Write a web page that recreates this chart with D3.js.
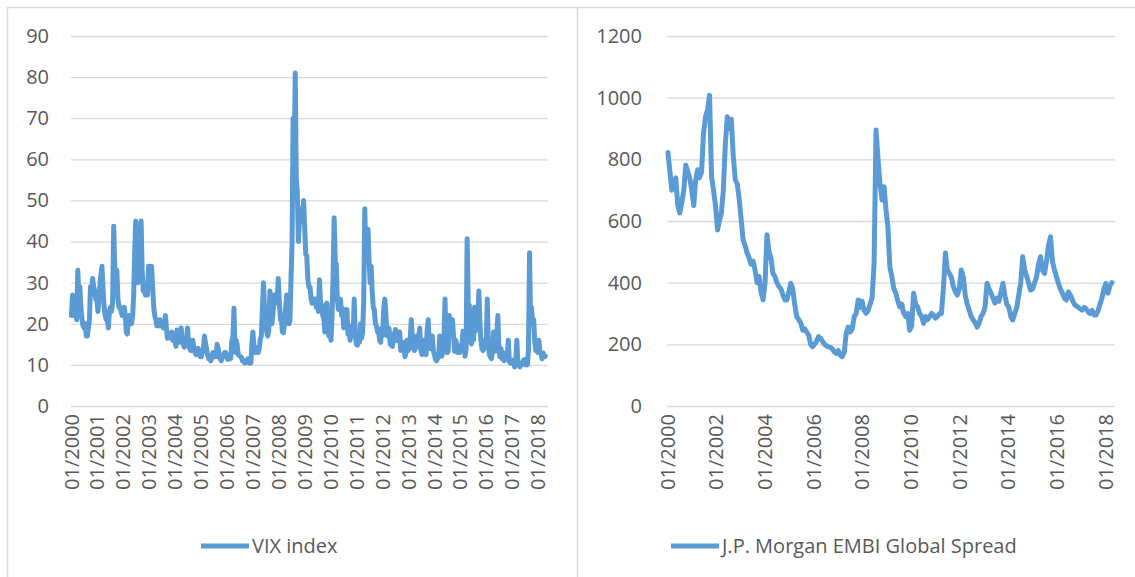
<!DOCTYPE html>
<html>
<head>
<meta charset="utf-8">
<title>VIX index and J.P. Morgan EMBI Global Spread</title>
<script src="https://cdn.jsdelivr.net/npm/d3@7"></script>
<style>
  body { margin: 0; background: #fff; }
  text { font-family: "Open Sans", sans-serif; fill: #595959; }
</style>
</head>
<body>
<svg id="chart" width="1135" height="577"></svg>
<script>

// VIX, two readings per month (mid / end), Jan 2000 .. Sep 2018
const vixValues = [
  22,27, 22,25, 23,21, 33,27, 29,24, 21,19.5, 19,20, 17,17, 19,21, 29,27, 31,29, 28,26,
  26,23, 26,30, 32,34, 28,24, 22,21, 21,19, 23,24, 23,25, 43.7,34, 31,33, 26,24, 24,23,
  22,22, 24,22, 18,17.5, 21,22, 20,20, 22,27, 38,45, 33,30, 36,40, 45,33, 28,28, 27,29,
  27,34, 34,30, 34,29, 24,22, 21,19.5, 20,19.5, 21,19.5, 20,19, 19,22, 19,16.5, 17,17, 16.5,18,
  16,16.5, 16,14.5, 18.5,17, 15.5,17, 19,15.5, 15,14.3, 15,16, 19,15, 14,13.5, 15,16, 14,13, 12.5,13.3,
  14,12.8, 12,12, 13,14, 17,15.3, 14,12.5, 11.5,12, 11,11.6, 13,12.6, 12,12, 15,14, 12.5,11.5, 11,12.1,
  12,13, 13,12.3, 11.4,11.4, 11.5,11.6, 16,16.4, 23.8,13.1, 16,15, 12.5,12.3, 12,11.9, 11,11.1, 10.5,10.9, 10.6,11.5,
  11,10.4, 10.5,15.4, 18,14.6, 13,14.2, 13,13, 14,16.2, 17,23.5, 30,23.4, 20,18, 17,18.5, 28,22.9, 20,22.5,
  27,26.2, 25,26.5, 31,25.6, 21,20.8, 18,17.8, 21,24, 27,22.9, 20,20.7, 31,39.4, 70,59.9, 81,55.3, 52,40,
  45,44.8, 48,46.4, 50,44, 37,36.5, 31,28.9, 29,26.4, 25,25.9, 26,26, 24,25.6, 23,30.7, 25,24.5, 22,21.7,
  18,24.6, 25,19.5, 17,17.6, 16,22, 32,45.8, 35,34.5, 26,23.5, 24,26, 22,23.7, 19,21.2, 21,23.5, 17.5,17.8,
  16,19.5, 17,18.4, 26,17.7, 15,14.8, 17,15.5, 20,16.5, 18,25.3, 48,36, 39,43, 36,30, 34,27.8, 24,23.4,
  20,19.4, 18,18.4, 16,15.5, 19,17.2, 24,26, 22,17.1, 17,18.9, 15,17.5, 14.5,15.7, 17,18.6, 18,15.9, 17,18,
  13.5,14.3, 14,15.5, 12,12.7, 16,13.5, 14,16.3, 21,16.9, 14,13.5, 14,17, 16,16.6, 19,13.8, 12.5,13.7, 16,13.7,
  12.5,18.4, 21,14, 17,13.9, 17,13.4, 12.5,11.4, 11,11.6, 12,17, 15,12.1, 13.3,16.3, 26,14, 13,13.3, 22,19.2,
  21,21, 17,13.3, 16,15.3, 13,14.6, 13,13.8, 14,18.2, 17,12.1, 14,40.7, 24,24.5, 17,15.1, 18,16.1, 24,18.2,
  24,20.2, 28,20.6, 16,14, 13.5,15.7, 16,14.2, 26,15.6, 12.5,11.9, 11.5,13.4, 18,13.3, 16,17.1, 22,13.3, 12,14,
  11.5,12, 11,12.9, 12,12.4, 16,10.8, 10.5,10.4, 11,11.2, 9.5,10.3, 16,10.6, 10,9.5, 10,10.2, 11,11.3, 10,11,
  10,13.5, 37.3,19.9, 24,20, 21,15.9, 13.5,15.4, 13,16, 13,12.8, 11.5,12.9, 12,12.1
];

// EMBI Global spread (bp), monthly, Jan 2000 .. Sep 2018
const embiValues = [
  822, 760, 700, 720, 740, 650, 626, 660, 700, 781, 760, 740,
  700, 650, 730, 766, 740, 760, 885, 938, 960, 1008, 743, 700,
  650, 571, 600, 626, 700, 850, 938, 900, 930, 808, 733, 720,
  668, 600, 538, 520, 496, 480, 460, 470, 440, 400, 420, 370,
  344, 400, 555, 500, 480, 430, 420, 400, 387, 380, 360, 344,
  344, 370, 398, 380, 330, 290, 280, 270, 246, 250, 240, 230,
  200, 192, 200, 210, 225, 220, 210, 200, 195, 192, 190, 185,
  175, 170, 180, 165, 160, 175, 236, 256, 240, 250, 290, 300,
  344, 320, 340, 310, 301, 310, 330, 350, 463, 895, 798, 720,
  668, 711, 640, 581, 451, 420, 380, 366, 340, 321, 330, 300,
  290, 300, 246, 260, 366, 330, 321, 300, 290, 268, 290, 280,
  290, 300, 295, 285, 290, 300, 300, 380, 496, 440, 430, 418,
  387, 370, 360, 380, 441, 420, 360, 330, 311, 290, 279, 270,
  256, 270, 290, 300, 320, 398, 380, 366, 350, 334, 350, 340,
  370, 398, 360, 330, 321, 290, 279, 300, 320, 360, 400, 484,
  441, 420, 400, 376, 380, 400, 418, 460, 484, 440, 430, 470,
  520, 549, 470, 441, 420, 398, 380, 366, 350, 344, 370, 360,
  344, 330, 325, 320, 315, 311, 320, 315, 305, 300, 310, 295,
  295, 310, 330, 350, 380, 398, 366, 390, 400
];

const vixTicks = [0, 10, 20, 30, 40, 50, 60, 70, 80, 90];
const embiTicks = [0, 200, 400, 600, 800, 1000, 1200];
const vixYears = d3.range(2000, 2019);
const embiYears = d3.range(2000, 2019, 2);

const vixData = vixValues.map((v, i) => ({ date: new Date(2000, Math.floor(i / 2), i % 2 ? 23 : 8), value: v }));
const embiData = embiValues.map((v, i) => ({ date: new Date(2000, i, 15), value: v }));

const svg = d3.select("#chart");
const blue = "#5B9BD5";
const grid = "#D9D9D9";

// panel frames
svg.append("line").attr("x1", 7).attr("x2", 1135).attr("y1", 7.5).attr("y2", 7.5)
    .attr("stroke", grid).attr("stroke-width", 1.5);
svg.append("line").attr("x1", 7.5).attr("x2", 7.5).attr("y1", 7).attr("y2", 577)
    .attr("stroke", grid).attr("stroke-width", 1.5);
svg.append("line").attr("x1", 577.5).attr("x2", 577.5).attr("y1", 7).attr("y2", 577)
    .attr("stroke", grid).attr("stroke-width", 1.5);

// category-style axis: labels drift slightly from the data dates, as in the original
const start = new Date(2000, 0, 1);
const dataEnd = new Date(2018, 10, 1);
const labelEnd = new Date(2018, 4, 25);

function drawPanel(p) {
    const g = svg.append("g");

    const xData = d3.scaleTime().domain([start, dataEnd]).range([p.x0, p.x1]);
    const xLabel = d3.scaleTime().domain([start, labelEnd]).range([p.x0, p.x1]);
    const y = d3.scaleLinear().domain(p.yDomain).range([406, 36]);

    // gridlines + y labels
    const yAxis = g.append("g")
        .attr("transform", "translate(" + p.x0 + ",0)")
        .call(d3.axisLeft(y).tickValues(p.yTicks).tickFormat(d3.format("d"))
            .tickSize(-(p.x1 - p.x0)).tickPadding(p.pad));
    yAxis.select(".domain").remove();
    yAxis.selectAll("line").attr("stroke", grid).attr("stroke-width", 1.3);
    yAxis.selectAll("text").attr("font-size", 20).attr("fill", "#595959");

    // x labels (rotated)
    const xAxis = g.append("g")
        .attr("transform", "translate(0,406)")
        .call(d3.axisBottom(xLabel)
            .tickValues(p.years.map(yr => new Date(yr, 0, 1)))
            .tickFormat(d3.timeFormat("%m/%Y"))
            .tickSize(0));
    xAxis.select(".domain").remove();
    xAxis.selectAll("text")
        .attr("font-size", 20)
        .attr("fill", "#595959")
        .attr("transform", "rotate(-90)")
        .attr("text-anchor", "end")
        .attr("x", -8)
        .attr("y", 0)
        .attr("dy", "0.35em");

    // series
    const line = d3.line().x(d => xData(d.date)).y(d => y(d.value));
    g.append("path")
        .datum(p.data)
        .attr("fill", "none")
        .attr("stroke", blue)
        .attr("stroke-width", 5)
        .attr("stroke-linejoin", "round")
        .attr("stroke-linecap", "round")
        .attr("d", line);

    // legend
    g.append("line")
        .attr("x1", p.legendX).attr("x2", p.legendX + 48)
        .attr("y1", 546).attr("y2", 546)
        .attr("stroke", blue).attr("stroke-width", 5);
    g.append("text")
        .attr("x", p.legendX + 51).attr("y", 546).attr("dy", "0.35em")
        .attr("font-size", 20)
        .text(p.label);
}

drawPanel({
    x0: 71, x1: 548, pad: 22,
    yDomain: [0, 90], yTicks: vixTicks, years: vixYears,
    data: vixData, legendX: 201, label: "VIX index"
});

drawPanel({
    x0: 667, x1: 1115, pad: 25,
    yDomain: [0, 1200], yTicks: embiTicks, years: embiYears,
    data: embiData, legendX: 671, label: "J.P. Morgan EMBI Global Spread"
});

</script>
</body>
</html>
